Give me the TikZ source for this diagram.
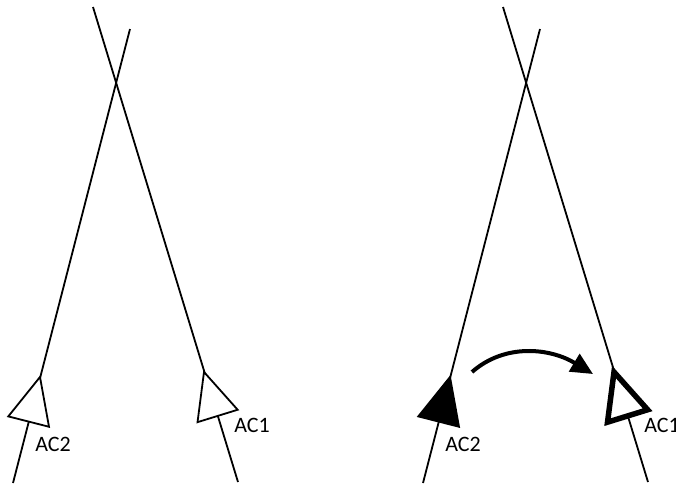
\documentclass[tikz,border=0pt]{standalone}
\usepackage{fontspec}
\setmainfont{Carlito}
\usetikzlibrary{arrows.meta,calc}

\tikzset{
  track/.style={line width=1.8pt},
  plane/.style={draw, line width=1.8pt, fill=white},
  lbl/.style={font=\fontsize{22}{26}\selectfont, inner sep=0pt},
}

% aircraft symbol: apex on the track, pointing up along it
\newcommand{\aircraft}[3]{%
  \coordinate (#1m) at ($(#1)!46pt!(#2)$);
  \draw[#3] (#1) -- ($(#1m)!21pt!90:(#1)$) -- ($(#1m)!21pt!-90:(#1)$) -- cycle;
}

\begin{document}
\begin{tikzpicture}[x=1pt,y=-1pt]
  \useasboundingbox (0,0) rectangle (676,485);
  \foreach \p/\dx in {l/0,r/410}{
    \begin{scope}[xshift=\dx pt]
      \coordinate (\p top1) at (93,7);
      \coordinate (\p nose1) at (204,372);
      \coordinate (\p end1) at (238,482);
      \coordinate (\p top2) at (130,29);
      \coordinate (\p nose2) at (40,377);
      \coordinate (\p end2) at (13,483);
      \draw[track] (\p top1) -- (\p end1);
      \draw[track] (\p top2) -- (\p end2);
      \node[lbl] (\p ac1) at (252,425) {AC1};
      \node[lbl] (\p ac2) at (53,444) {AC2};
    \end{scope}
  }
  \aircraft{lnose1}{lend1}{plane}
  \aircraft{lnose2}{lend2}{plane}
  \aircraft{rnose1}{rend1}{plane, line width=5.5pt}
  \aircraft{rnose2}{rend2}{plane, fill=black}
  % swap
  \coordinate (swing) at (472,372);
  \coordinate (swung) at (593,374);
  \draw[line width=4pt, -{Triangle[length=22pt,width=20pt]}]
    (swing) .. controls (505,343) and (550,348) .. (swung);
\end{tikzpicture}
\end{document}
